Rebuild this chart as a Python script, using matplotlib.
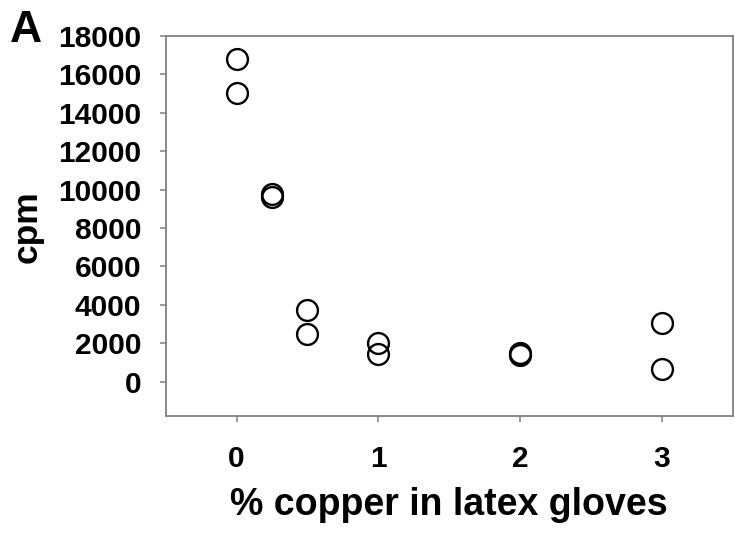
import matplotlib
matplotlib.use("Agg")
import matplotlib.pyplot as plt

# copper concentration (%) and counts per minute, two replicates each
copper = [0, 0, 0.25, 0.25, 0.5, 0.5, 1, 1, 2, 2, 3, 3]
cpm = [16800, 15020, 9780, 9630, 3730, 2480, 2000, 1450, 1490, 1380, 3050, 660]

x_ticks = [0, 1, 2, 3]
y_ticks = [0, 2000, 4000, 6000, 8000, 10000, 12000, 14000, 16000, 18000]

plt.rcParams['font.family'] = ['Liberation Sans', 'DejaVu Sans']

fig = plt.figure(figsize=(7.35, 5.35), dpi=100)
ax = fig.add_axes([0.2254, 0.2224, 0.7716, 0.7103])

ax.plot(copper, cpm, linestyle="none", marker="o", markersize=15,
        markerfacecolor="none", markeredgecolor="black", markeredgewidth=1.7)

ax.set_xlim(-0.5, 3.5)
ax.set_ylim(-1790, 18000)
ax.set_xticks(x_ticks)
ax.set_yticks(y_ticks)
ax.set_xticklabels([str(t) for t in x_ticks], fontsize=21.5, fontweight="bold")
ax.set_yticklabels([str(t) for t in y_ticks], fontsize=21.5, fontweight="bold")

for s in ax.spines.values():
    s.set_color("#808080")
    s.set_linewidth(1.3)
ax.tick_params(axis="y", direction="out", length=4.5, width=1.1, color="#808080", pad=13)
ax.tick_params(axis="x", direction="out", length=4, width=1.1, color="#808080", pad=17)

ax.set_xlabel("% copper in latex gloves", fontsize=27, fontweight="bold", labelpad=10)
fig.text(0.037, 0.576, "cpm", rotation=90, fontsize=25.5, fontweight="bold",
         ha="center", va="center")
fig.text(0.013, 0.9215, "A", fontsize=32, fontweight="bold", ha="left", va="baseline")

fig.savefig("out.png", dpi=100)
